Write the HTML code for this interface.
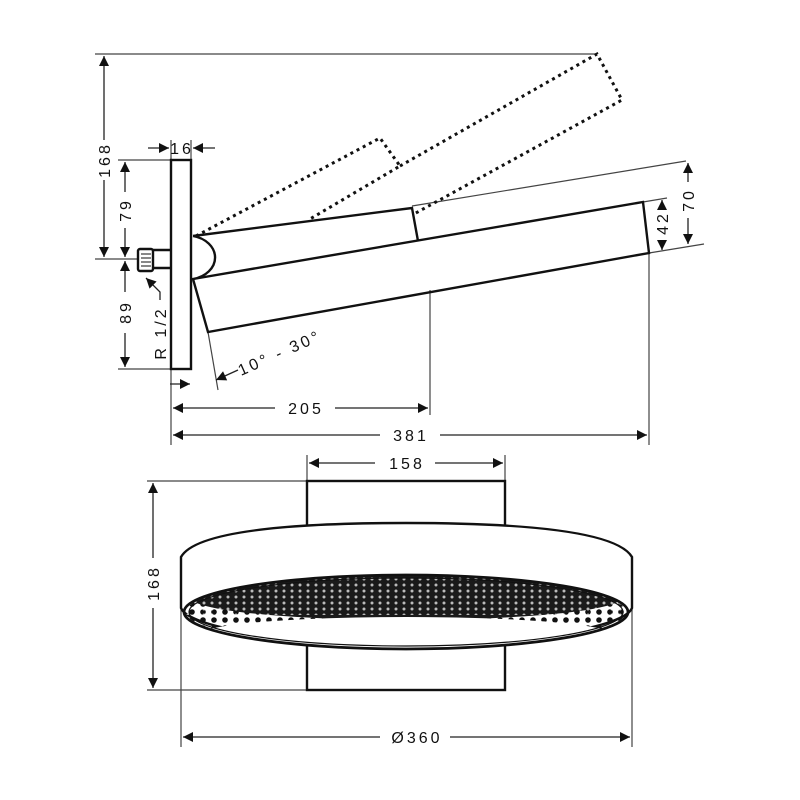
<!DOCTYPE html>
<html><head><style>html,body{margin:0;padding:0;background:#fff}svg{display:block}</style></head>
<body>
<svg width="800" height="800" viewBox="0 0 800 800" xmlns="http://www.w3.org/2000/svg" font-family="Liberation Sans, sans-serif" font-size="16" letter-spacing="3" fill="none" stroke="#111">
<defs>
<marker id="a" viewBox="0 0 10 10" refX="10" refY="5" markerWidth="12" markerHeight="10" markerUnits="userSpaceOnUse" orient="auto-start-reverse"><path d="M0,0L10,5L0,10z" fill="#111" stroke="none"/></marker>
<pattern id="dots" width="8" height="6" patternUnits="userSpaceOnUse"><circle cx="4" cy="3" r="1.5" fill="#fff" stroke="none"/></pattern>
<pattern id="bdots" width="11" height="8" patternUnits="userSpaceOnUse"><circle cx="5" cy="4" r="2.8" fill="#111" stroke="none"/></pattern>
<clipPath id="ce"><ellipse cx="406" cy="612" rx="220" ry="36"/></clipPath>
</defs>
<g stroke-width="1.2" stroke="#444">
<line x1="95" y1="54" x2="597" y2="54"/>
<line x1="118" y1="160" x2="171" y2="160"/>
<line x1="95" y1="259" x2="138" y2="259"/>
<line x1="118" y1="369" x2="171" y2="369"/>
<line x1="171" y1="369" x2="171" y2="445"/>
<line x1="191" y1="140" x2="191" y2="160"/>
<line x1="171" y1="140" x2="171" y2="160"/>
<line x1="430" y1="290" x2="430" y2="415"/>
<line x1="649" y1="253" x2="649" y2="445"/>
<line x1="412" y1="206" x2="686" y2="161"/>
<line x1="643" y1="202" x2="667" y2="198"/>
<line x1="649" y1="253" x2="704" y2="244"/>
<line x1="208" y1="332" x2="218" y2="390"/>
</g>
<g stroke-width="1.3" stroke="#222">
<line x1="104" y1="56" x2="104" y2="140" marker-start="url(#a)"/><line x1="104" y1="180" x2="104" y2="257" marker-end="url(#a)"/>
<line x1="125" y1="162" x2="125" y2="192" marker-start="url(#a)"/><line x1="125" y1="228" x2="125" y2="257" marker-end="url(#a)"/>
<line x1="125" y1="261" x2="125" y2="292" marker-start="url(#a)"/><line x1="125" y1="333" x2="125" y2="367" marker-end="url(#a)"/>
<line x1="148" y1="148" x2="169" y2="148" marker-end="url(#a)"/><line x1="215" y1="148" x2="193" y2="148" marker-end="url(#a)"/>
<line x1="170" y1="384" x2="190" y2="384" marker-end="url(#a)"/>
<line x1="173" y1="408" x2="275" y2="408" marker-start="url(#a)"/><line x1="335" y1="408" x2="428" y2="408" marker-end="url(#a)"/>
<line x1="173" y1="435" x2="380" y2="435" marker-start="url(#a)"/><line x1="440" y1="435" x2="647" y2="435" marker-end="url(#a)"/>
<line x1="688" y1="163" x2="688" y2="182" marker-start="url(#a)"/><line x1="688" y1="218" x2="688" y2="244" marker-end="url(#a)"/>
<line x1="662" y1="200" x2="662" y2="205" marker-start="url(#a)"/><line x1="662" y1="240" x2="662" y2="250" marker-end="url(#a)"/>
<line x1="238" y1="370" x2="216" y2="380" marker-end="url(#a)"/>
<polyline points="160,300 160,292 146,278" marker-end="url(#a)" fill="none"/>
</g>
<g fill="#111" stroke="none">
<text x="182" y="154" text-anchor="middle">16</text>
<text transform="translate(110,160) rotate(-90)" text-anchor="middle">168</text>
<text transform="translate(131,210) rotate(-90)" text-anchor="middle">79</text>
<text transform="translate(131,312) rotate(-90)" text-anchor="middle">89</text>
<text transform="translate(166,333) rotate(-90)" text-anchor="middle">R 1/2</text>
<text x="306" y="414" text-anchor="middle">205</text>
<text x="411" y="441" text-anchor="middle">381</text>
<text transform="translate(668,223) rotate(-90)" text-anchor="middle">42</text>
<text transform="translate(694,200) rotate(-90)" text-anchor="middle">70</text>
<text transform="translate(241,376) rotate(-24)">10° - 30°</text>
</g>
<g stroke-width="3" stroke-dasharray="3,4" stroke="#111">
<polyline points="196,236 380,138 400,166 310,219"/>
<polyline points="400,166 597,54 622,100 414,214"/>
</g>
<g stroke-width="2.4" stroke="#111" fill="#fff">
<rect x="171" y="160" width="20" height="209"/>
<line x1="152" y1="250" x2="171" y2="250"/><line x1="152" y1="268" x2="171" y2="268"/>
<rect x="138" y="249" width="15" height="22" rx="2"/>
<polygon points="193,279 643,202 649,253 208,332" fill="none"/>
<polyline points="193,236 412,208 418,241" fill="none"/>
<path d="M193,236 A28,22 0 0 1 193,279" />
</g>
<g stroke-width="1" stroke="#111"><line x1="141" y1="254" x2="151" y2="254"/><line x1="141" y1="258" x2="151" y2="258"/><line x1="141" y1="262" x2="151" y2="262"/><line x1="141" y1="266" x2="151" y2="266"/></g>
<!-- bottom view -->
<g stroke-width="1.2" stroke="#444">
<line x1="307" y1="455" x2="307" y2="481"/><line x1="505" y1="455" x2="505" y2="481"/>
<line x1="147" y1="481" x2="307" y2="481"/><line x1="147" y1="690" x2="307" y2="690"/>
<line x1="181" y1="608" x2="181" y2="747"/><line x1="632" y1="608" x2="632" y2="747"/>
</g>
<g stroke-width="1.3" stroke="#222">
<line x1="309" y1="463" x2="375" y2="463" marker-start="url(#a)"/><line x1="435" y1="463" x2="503" y2="463" marker-end="url(#a)"/>
<line x1="153" y1="483" x2="153" y2="558" marker-start="url(#a)"/><line x1="153" y1="608" x2="153" y2="688" marker-end="url(#a)"/>
<line x1="183" y1="737" x2="380" y2="737" marker-start="url(#a)"/><line x1="450" y1="737" x2="630" y2="737" marker-end="url(#a)"/>
</g>
<g fill="#111" stroke="none">
<text x="407" y="469" text-anchor="middle">158</text>
<text transform="translate(159,583) rotate(-90)" text-anchor="middle">168</text>
<text x="417" y="743" text-anchor="middle">Ø360</text>
</g>
<g stroke-width="2.4" stroke="#111" fill="#fff">
<rect x="307" y="481" width="198" height="45"/>
<rect x="307" y="640" width="198" height="50"/>
<path d="M181,557 Q200,523 406,523 Q612,523 632,557 L632,608 A226,38 0 0 1 181,608 Z"/>
</g>
<g clip-path="url(#ce)">
<rect x="180" y="575" width="452" height="60" fill="url(#bdots)" stroke="none"/>
<ellipse cx="406" cy="598" rx="215" ry="22" fill="#1a1a1a" stroke="none"/>
<rect x="180" y="575" width="452" height="40" fill="url(#dots)" stroke="none" opacity="0.7"/>
<ellipse cx="406" cy="634" rx="205" ry="17" fill="#fff" stroke="none"/>
</g>
<ellipse cx="406" cy="612" rx="222" ry="37" stroke-width="2.8" stroke="#111"/>
<ellipse cx="406" cy="612" rx="217" ry="34" stroke-width="1.2" stroke="#111"/>
</svg>
</body></html>
